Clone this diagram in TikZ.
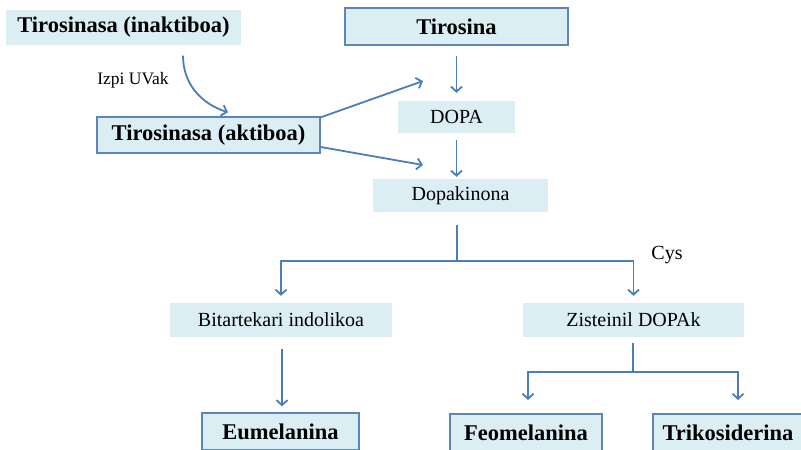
\documentclass[tikz,border=0pt]{standalone}
\usepackage{fontspec}
\setmainfont{Liberation Serif}
\usetikzlibrary{arrows.meta}
\definecolor{boxfill}{HTML}{DBEEF4}
\definecolor{boxline}{HTML}{5F84B8}
\definecolor{flow}{HTML}{4A7EBB}
\begin{document}
\begin{tikzpicture}[x=1pt,y=-1pt,
  plainbox/.style={fill=boxfill,inner sep=0pt,anchor=center,
    font=\fontsize{20}{24}\selectfont},
  keybox/.style={fill=boxfill,draw=boxline,line width=1.3pt,inner sep=0pt,anchor=center,
    font=\fontsize{22.5}{26}\selectfont\bfseries},
  flowarrow/.style={draw=flow,line width=1.8pt,
    -{Straight Barb[length=5pt,width=11pt]}},
  flowline/.style={draw=flow,line width=1.8pt},
  note/.style={inner sep=0pt,anchor=center}]
\clip (0,0) rectangle (801,450);
\fill[white] (0,0) rectangle (801,450);

% enzyme boxes
\node[keybox,draw=none,minimum width=235pt,minimum height=35pt] (inak) at (123.5,27.5) {Tirosinasa (inaktiboa)};
\node[keybox,minimum width=223pt,minimum height=36pt] (akt) at (208.5,135) {Tirosinasa (aktiboa)};

% main pathway
\node[keybox,minimum width=223pt,minimum height=37pt] (tir) at (456.5,26.5) {Tirosina};
\node[plainbox,minimum width=117pt,minimum height=32pt] (dopa) at (456.5,117) {DOPA};
\node[plainbox,minimum width=175pt,minimum height=33pt] (dopak) at (460.5,195.5) {Dopakinona};
\node[plainbox,minimum width=222pt,minimum height=34pt] (bit) at (281,320) {Bitartekari indolikoa};
\node[plainbox,minimum width=221pt,minimum height=34pt] (zis) at (633.5,320) {Zisteinil DOPAk};

% pigments
\node[keybox,minimum width=157pt,minimum height=37pt] (eum) at (280.5,431.5) {Eumelanina};
\node[keybox,minimum width=152pt,minimum height=37pt] (feo) at (526,432.5) {Feomelanina};
\node[keybox,minimum width=150pt,minimum height=37pt] (tri) at (728,432.5) {Trikosiderina};

% labels
\node[note,font=\fontsize{17.5}{20}\selectfont] (uv) at (133,80) {Izpi UVak};
\node[note,font=\fontsize{20}{24}\selectfont] (cys) at (667,255) {Cys};

% free ends and branch points
\coordinate (t1) at (423,81);
\coordinate (t2) at (423,165);
\coordinate (fork1) at (457,261);
\coordinate (fork2) at (633,372);
\coordinate (feotip) at (528,400);
\coordinate (tritip) at (738,400);

% activation of the enzyme (yshift is in page units: negative = downwards)
\draw[flowarrow] ([xshift=59.5pt,yshift=-10pt]inak.south) to[out=-90,in=162] ([xshift=19.5pt,yshift=4pt]akt.north);
\draw[flowarrow] ([yshift=-1pt]akt.north east) -- (t1);
\draw[flowarrow] ([yshift=-12pt]akt.east) -- (t2);

% Tirosina -> DOPA -> Dopakinona
\draw[flowarrow] ([yshift=-10pt]tir.south) -- ([yshift=8pt]dopa.north);
\draw[flowarrow] ([yshift=-7pt]dopa.south) -- ([xshift=-4pt,yshift=2pt]dopak.north);

% branching after Dopakinona
\draw[flowline] ([xshift=-3.5pt,yshift=-13pt]dopak.south) -- (fork1);
\draw[flowarrow] (fork1) -| ([yshift=7pt]bit.north);
\draw[flowarrow] (fork1) -| ([yshift=7pt]zis.north);

% indole branch
\draw[flowarrow] ([xshift=1pt,yshift=-12pt]bit.south) -- ([xshift=1.5pt,yshift=6pt]eum.north);

% cysteinyl branch
\draw[flowline] ([xshift=-0.5pt,yshift=-6pt]zis.south) -- (fork2);
\draw[flowarrow] (fork2) -| (feotip);
\draw[flowarrow] (fork2) -| (tritip);
\end{tikzpicture}
\end{document}
